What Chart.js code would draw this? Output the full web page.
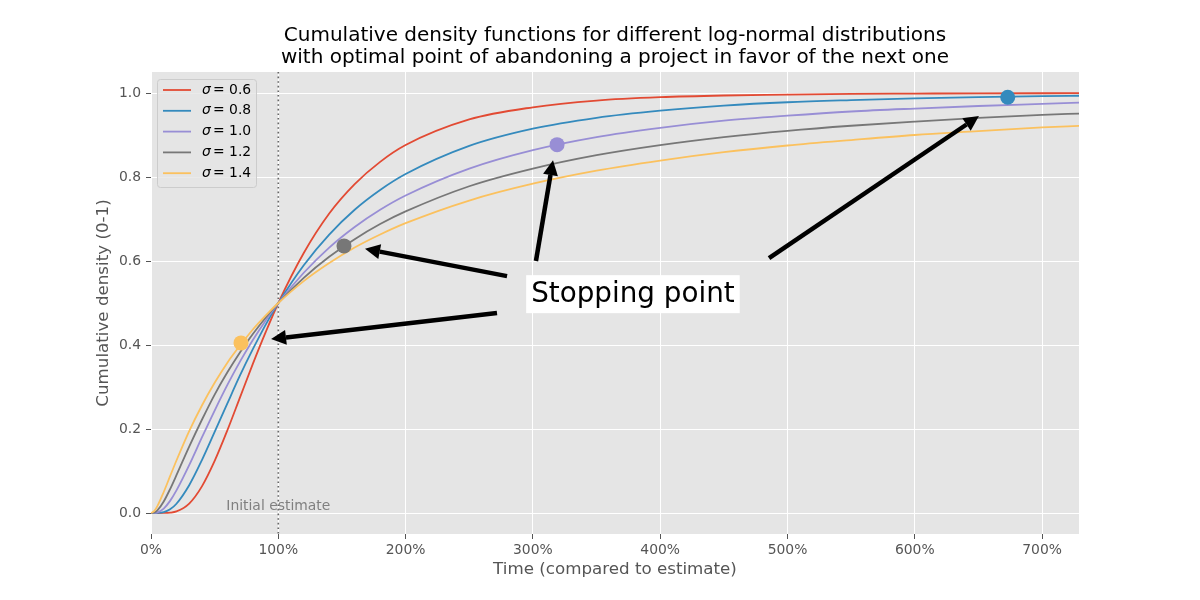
<!DOCTYPE html>
<html>
<head>
<meta charset="utf-8">
<script src="https://cdn.jsdelivr.net/npm/chart.js@4.4.1/dist/chart.umd.min.js"></script>
<style>
  html, body { margin: 0; padding: 0; background: #ffffff; }
  #wrap { width: 1200px; height: 600px; }
</style>
</head>
<body>
<div id="wrap"><canvas id="chart" width="1200" height="600"></canvas></div>
<script>
// Time as a fraction of the estimate (1.0 = 100%)
const times = [0, 0.025, 0.05, 0.1, 0.15, 0.2, 0.3, 0.4, 0.5, 0.6, 0.7, 0.8, 0.9, 1.0,
    1.2, 1.4, 1.6, 1.8, 2.0, 2.5, 3.0, 3.5, 4.0, 4.5, 5.0, 5.5, 6.0, 6.5, 7.0, 7.3];

// Cumulative density
const sigma06 = [0, 0, 0, 0.0001, 0.0008, 0.0037, 0.0224, 0.0634, 0.124, 0.197, 0.276, 0.355, 0.430, 0.5,
    0.619, 0.713, 0.783, 0.836, 0.876, 0.937, 0.966, 0.982, 0.990, 0.994, 0.996, 0.998, 0.9986, 0.9991, 0.9994, 0.9995];
const sigma08 = [0, 0, 0.0001, 0.0020, 0.0089, 0.0221, 0.0662, 0.126, 0.193, 0.261, 0.328, 0.390, 0.448, 0.5,
    0.590, 0.663, 0.722, 0.769, 0.807, 0.874, 0.915, 0.941, 0.958, 0.970, 0.978, 0.983, 0.987, 0.990, 0.9925, 0.9935];
const sigma10 = [0, 0.0001, 0.0014, 0.0106, 0.0289, 0.0538, 0.114, 0.180, 0.244, 0.305, 0.361, 0.412, 0.458, 0.5,
    0.572, 0.632, 0.681, 0.722, 0.756, 0.820, 0.864, 0.895, 0.917, 0.934, 0.946, 0.956, 0.963, 0.969, 0.974, 0.977];
const sigma12 = [0, 0.0011, 0.0063, 0.0275, 0.0570, 0.090, 0.158, 0.222, 0.282, 0.335, 0.383, 0.426, 0.465, 0.5,
    0.560, 0.610, 0.652, 0.688, 0.718, 0.778, 0.820, 0.852, 0.876, 0.895, 0.910, 0.922, 0.932, 0.941, 0.948, 0.951];
const sigma14 = [0, 0.0042, 0.0162, 0.050, 0.0877, 0.125, 0.195, 0.256, 0.310, 0.358, 0.399, 0.437, 0.470, 0.5,
    0.552, 0.595, 0.632, 0.663, 0.690, 0.744, 0.784, 0.815, 0.839, 0.859, 0.875, 0.888, 0.900, 0.909, 0.918, 0.922];

const sigmaLabels = ['0.6', '0.8', '1.0', '1.2', '1.4'];
const seriesValues = [sigma06, sigma08, sigma10, sigma12, sigma14];
const seriesColors = ['#E24A33', '#348ABD', '#988ED5', '#777777', '#FBC15E'];

// Stopping points (sigma 1.4, 1.2, 1.0, 0.8)
const stopX = [0.707, 1.516, 3.19, 6.73];
const stopY = [0.405, 0.636, 0.877, 0.990];
const stopColors = ['#FBC15E', '#777777', '#988ED5', '#348ABD'];

// Arrow annotations, in data coordinates
const arrowFromX = [2.797, 2.718, 3.024, 4.855];
const arrowFromY = [0.564, 0.476, 0.600, 0.607];
const arrowToX = [1.681, 0.943, 3.158, 6.504];
const arrowToY = [0.629, 0.414, 0.840, 0.945];

const xTickValues = [0, 1, 2, 3, 4, 5, 6, 7];
const yTickValues = [0, 0.2, 0.4, 0.6, 0.8, 1.0];

const FONT = '"DejaVu Sans", sans-serif';

const datasets = seriesValues.map((vals, i) => ({
    label: 'σ = ' + sigmaLabels[i],
    data: times.map((t, j) => ({ x: t, y: vals[j] })),
    borderColor: seriesColors[i],
    backgroundColor: seriesColors[i],
    borderWidth: 1.8,
    pointRadius: 0,
    showLine: true,
    cubicInterpolationMode: 'monotone',
    order: 10 - i
}));

datasets.push({
    type: 'scatter',
    label: 'stops',
    data: stopX.map((x, i) => ({ x: x, y: stopY[i] })),
    backgroundColor: stopColors,
    borderColor: stopColors,
    pointRadius: 7.5,
    borderWidth: 0,
    order: 0
});

// Background, reference line and text
const decorPlugin = {
    id: 'decor',
    beforeDraw(chart) {
        const { ctx, chartArea: a } = chart;
        ctx.save();
        ctx.fillStyle = '#E5E5E5';
        ctx.fillRect(a.left, a.top, a.right - a.left, a.bottom - a.top);
        ctx.restore();
    },
    beforeDatasetsDraw(chart) {
        const { ctx, chartArea: a, scales } = chart;
        const px = scales.x.getPixelForValue(1.0);
        ctx.save();
        ctx.strokeStyle = '#666666';
        ctx.lineWidth = 1.6;
        ctx.setLineDash([1.6, 3]);
        ctx.beginPath();
        ctx.moveTo(px, a.top);
        ctx.lineTo(px, a.bottom);
        ctx.stroke();
        ctx.setLineDash([]);
        ctx.fillStyle = '#808080';
        ctx.font = '13.9px ' + FONT;
        ctx.textAlign = 'center';
        ctx.textBaseline = 'bottom';
        ctx.fillText('Initial estimate', px, scales.y.getPixelForValue(0.0));
        ctx.restore();
    },
    afterDraw(chart) {
        const { ctx, chartArea: a, scales } = chart;
        ctx.save();

        // Arrows
        for (let i = 0; i < arrowFromX.length; i++) {
            const x1 = scales.x.getPixelForValue(arrowFromX[i]);
            const y1 = scales.y.getPixelForValue(arrowFromY[i]);
            const x2 = scales.x.getPixelForValue(arrowToX[i]);
            const y2 = scales.y.getPixelForValue(arrowToY[i]);
            const ang = Math.atan2(y2 - y1, x2 - x1);
            const headLen = 15, headW = 7.5;
            const bx = x2 - headLen * Math.cos(ang);
            const by = y2 - headLen * Math.sin(ang);
            ctx.strokeStyle = '#000000';
            ctx.fillStyle = '#000000';
            ctx.lineWidth = 4.5;
            ctx.beginPath();
            ctx.moveTo(x1, y1);
            ctx.lineTo(bx, by);
            ctx.stroke();
            ctx.beginPath();
            ctx.moveTo(x2, y2);
            ctx.lineTo(bx + headW * Math.sin(ang), by - headW * Math.cos(ang));
            ctx.lineTo(bx - headW * Math.sin(ang), by + headW * Math.cos(ang));
            ctx.closePath();
            ctx.fill();
        }

        // Stopping point label
        const tx = scales.x.getPixelForValue(3.786);
        const ty = scales.y.getPixelForValue(0.521);
        ctx.font = '27.8px ' + FONT;
        const tw = ctx.measureText('Stopping point').width;
        ctx.fillStyle = '#ffffff';
        ctx.fillRect(tx - tw / 2 - 5, ty - 19, tw + 10, 38);
        ctx.fillStyle = '#000000';
        ctx.textAlign = 'center';
        ctx.textBaseline = 'middle';
        ctx.fillText('Stopping point', tx, ty + 1);

        // Legend
        const lx = a.left + 6, ly = a.top + 7, lw = 99, lh = 108;
        ctx.fillStyle = 'rgba(229,229,229,0.8)';
        ctx.strokeStyle = '#cccccc';
        ctx.lineWidth = 1;
        ctx.beginPath();
        ctx.roundRect(lx + 0.5, ly + 0.5, lw, lh, 3);
        ctx.fill();
        ctx.stroke();
        for (let i = 0; i < sigmaLabels.length; i++) {
            const ry = ly + 11 + i * 20.8;
            ctx.strokeStyle = seriesColors[i];
            ctx.lineWidth = 1.8;
            ctx.beginPath();
            ctx.moveTo(lx + 6, ry);
            ctx.lineTo(lx + 34, ry);
            ctx.stroke();
            ctx.fillStyle = '#000000';
            ctx.textAlign = 'left';
            ctx.textBaseline = 'middle';
            ctx.font = 'italic 13.9px ' + FONT;
            ctx.fillText('σ', lx + 45, ry);
            ctx.font = '13.9px ' + FONT;
            ctx.fillText('= ' + sigmaLabels[i], lx + 56, ry);
        }

        // Title
        const cx = (a.left + a.right) / 2;
        ctx.fillStyle = '#000000';
        ctx.textAlign = 'center';
        ctx.textBaseline = 'middle';
        ctx.font = '20px ' + FONT;
        ctx.fillText('Cumulative density functions for different log-normal distributions', cx, 36);
        ctx.fillText('with optimal point of abandoning a project in favor of the next one', cx, 58);

        // Axis titles
        ctx.fillStyle = '#555555';
        ctx.font = '16.7px ' + FONT;
        ctx.fillText('Time (compared to estimate)', cx, 570);
        ctx.translate(104, (a.top + a.bottom) / 2);
        ctx.rotate(-Math.PI / 2);
        ctx.fillText('Cumulative density (0-1)', 0, 0);
        ctx.restore();
    }
};

new Chart(document.getElementById('chart'), {
    type: 'line',
    data: { datasets: datasets },
    plugins: [decorPlugin],
    options: {
        responsive: false,
        animation: false,
        layout: { padding: { top: 72, right: 121, left: 0, bottom: 0 } },
        plugins: {
            legend: { display: false },
            tooltip: { enabled: false },
            title: { display: false }
        },
        scales: {
            x: {
                type: 'linear',
                min: 0,
                max: 7.29,
                afterBuildTicks: scale => { scale.ticks = xTickValues.map(v => ({ value: v })); },
                afterFit: scale => { scale.height = 66; },
                border: { display: false },
                grid: { color: '#ffffff', lineWidth: 1, tickColor: '#555555', tickLength: 5 },
                ticks: {
                    color: '#555555',
                    padding: 3,
                    maxRotation: 0,
                    font: { family: 'DejaVu Sans', size: 13.9 },
                    callback: v => Math.round(v * 100) + '%'
                }
            },
            y: {
                type: 'linear',
                min: -0.05,
                max: 1.05,
                afterBuildTicks: scale => { scale.ticks = yTickValues.map(v => ({ value: v })); },
                afterFit: scale => { scale.width = 151; },
                border: { display: false },
                grid: { color: '#ffffff', lineWidth: 1, tickColor: '#555555', tickLength: 5 },
                ticks: {
                    color: '#555555',
                    padding: 5,
                    font: { family: 'DejaVu Sans', size: 13.9 },
                    callback: v => v.toFixed(1)
                }
            }
        }
    }
});
</script>
</body>
</html>
